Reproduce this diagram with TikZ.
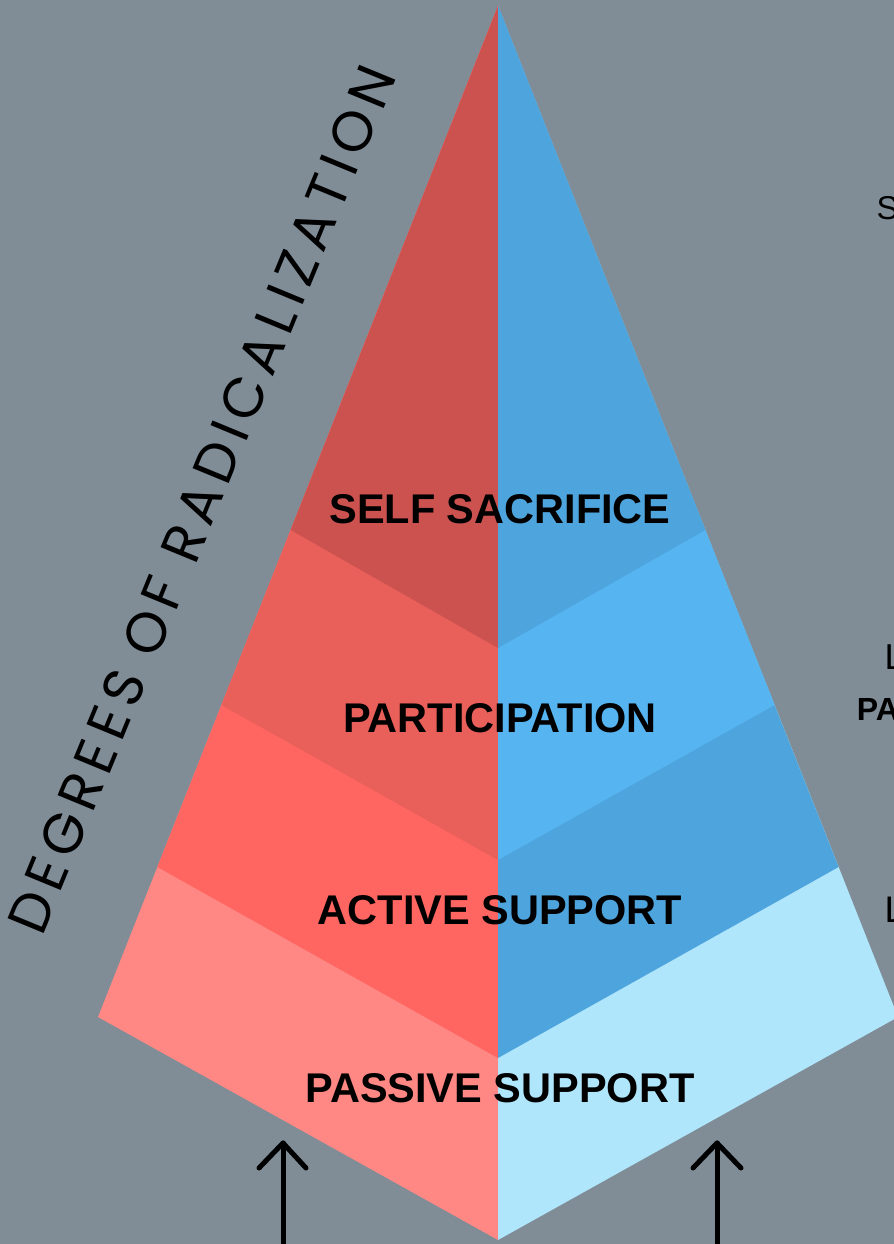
\documentclass[tikz,border=0pt]{standalone}
\usepackage{fontspec}
\setmainfont{Liberation Sans}
\newfontfamily\degfont{Poppins}[LetterSpace=12.5]

\definecolor{bgcol}{HTML}{808D97}
\definecolor{redA}{HTML}{CB524F}
\definecolor{redB}{HTML}{E95F5A}
\definecolor{redC}{HTML}{FF6561}
\definecolor{redD}{HTML}{FF8884}
\definecolor{blueA}{HTML}{4EA4DC}
\definecolor{blueB}{HTML}{56B4F1}
\definecolor{blueC}{HTML}{4EA4DC}
\definecolor{blueD}{HTML}{B0E6FC}

\tikzset{
  stage/.style={font=\bfseries\fontsize{41.5bp}{41.5bp}\selectfont, anchor=base, inner sep=0pt},
  edgetext/.style={font=\fontsize{33bp}{33bp}\selectfont, anchor=base west, inner sep=0pt},
  arrowline/.style={line width=5bp, line cap=round, line join=round},
}

\begin{document}
\begin{tikzpicture}[x=1bp,y=-1bp]
    \useasboundingbox (0,0) rectangle (894,1244);
    \clip (0,0) rectangle (894,1244);
    \fill[bgcol] (0,0) rectangle (894,1244);

    % Pyramid corners
    \coordinate (apex) at (498,6);
    \coordinate (l1) at (290.7,530);
    \coordinate (l2) at (221.4,705);
    \coordinate (l3) at (157.4,867);
    \coordinate (l4) at (98,1017);
    \coordinate (c1) at (498,648);
    \coordinate (c2) at (498,860);
    \coordinate (c3) at (498,1058);
    \coordinate (c4) at (498,1240);
    \coordinate (r1) at (705.3,530);
    \coordinate (r2) at (774.6,705);
    \coordinate (r3) at (838.6,867);
    \coordinate (r4) at (898,1017);

    % Left half
    \foreach \i/\col in {4/redD,3/redC,2/redB,1/redA}
        \fill[\col] (apex) -- (l\i) -- (c\i) -- cycle;

    % Right half
    \foreach \i/\col in {4/blueD,3/blueC,2/blueB,1/blueA}
        \fill[\col] (apex) -- (r\i) -- (c\i) -- cycle;

    % Stages
    \node[stage] (self) at (500,523) {SELF SACRIFICE};
    \node[stage] (part) at (500,732) {PARTICIPATION};
    \node[stage] (active) at (500,924) {ACTIVE SUPPORT};
    \node[stage] (passive) at (500,1102) {PASSIVE SUPPORT};

    % Side title
    \node[rotate=67.6, anchor=base west, inner sep=0pt,
          font=\degfont\fontsize{56bp}{56bp}\selectfont] (degrees) at (42,938) {DEGREES OF RADICALIZATION};

    % Text cut off at the right edge
    \node[edgetext] (s) at (876.5,219) {S};
    \node[edgetext, font=\fontsize{36bp}{36bp}\selectfont] (ltop) at (884.4,669) {L};
    \node[edgetext, font=\bfseries\fontsize{32bp}{32bp}\selectfont] (pa) at (856.6,720) {PA};
    \node[edgetext, font=\fontsize{37bp}{37bp}\selectfont] (llow) at (884.3,922) {L};

    % Arrows
    \coordinate (lefttip) at (283,1143);
    \coordinate (leftfoot) at (283,1260);
    \coordinate (righttip) at (717,1143);
    \coordinate (rightfoot) at (717,1260);
    \draw[arrowline] (leftfoot) -- (lefttip);
    \draw[arrowline] (lefttip) ++(-24,25) -- (lefttip) -- ++(23,25);
    \draw[arrowline] (rightfoot) -- (righttip);
    \draw[arrowline] (righttip) ++(-24,25) -- (righttip) -- ++(24,25);
\end{tikzpicture}
\end{document}
